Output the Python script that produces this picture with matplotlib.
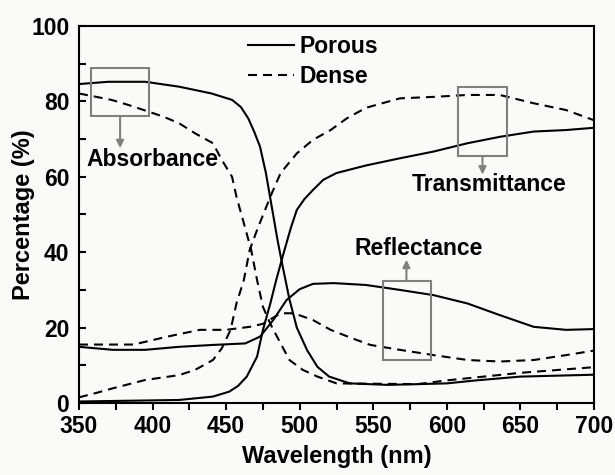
import matplotlib
matplotlib.use("Agg")
import matplotlib.pyplot as plt
from matplotlib.patches import Rectangle
from matplotlib.ticker import MultipleLocator

plt.rcParams['font.family'] = ['Liberation Sans', 'DejaVu Sans']
plt.rcParams['font.weight'] = 'bold'

# absorbance
wl_abs_porous = [350, 370, 395, 418, 440, 454, 460, 465, 469, 473, 477, 481, 485, 488, 493,
                 498, 505, 512, 520, 534, 560, 600, 620, 650, 700]
abs_porous = [84.6, 85.2, 85.2, 83.9, 82.1, 80.4, 78.5, 75.5, 72, 68, 61, 52, 43, 37, 27.5,
              20, 14, 9.6, 7, 5.2, 4.8, 5.2, 6, 7, 7.5]
wl_abs_dense = [350, 372, 384, 394, 407, 418, 429, 441, 447, 454, 457, 462, 467, 471,
                475, 480, 487, 493, 502, 512, 525, 580, 600, 650, 700]
abs_dense = [82.1, 80.4, 79, 77.7, 76, 74.2, 71.5, 68.9, 64.5, 60, 54.7, 47.7, 40.6, 32.6,
             25.5, 21, 15.8, 11.4, 8.8, 7, 5.2, 5, 6, 8, 9.5]

# transmittance
wl_tra_porous = [350, 418, 441, 452, 458, 464, 471, 475, 480, 484, 489, 494, 498, 503,
                 509, 516, 525, 545, 568, 591, 614, 636, 659, 681, 700]
tra_porous = [0.4, 0.8, 1.7, 3, 4.5, 7, 12.3, 19.4, 26.4, 32.6, 39.7, 46.5, 51.2, 54,
              56.5, 59.2, 61, 63, 64.9, 66.7, 68.9, 70.6, 72, 72.4, 73]
wl_tra_dense = [350, 362, 373, 395, 418, 429, 441, 447, 453, 457, 462, 466, 471, 480,
                487, 498, 509, 521, 532, 545, 568, 591, 614, 636, 659, 681, 700]
tra_dense = [1.5, 2.7, 3.9, 6.1, 7.4, 8.8, 11.4, 14.5, 19.4, 26.4, 32.6, 40.6, 45.9, 54.7,
             61, 66.2, 69.8, 72.4, 75.5, 78.3, 80.8, 81.2, 81.7, 81.7, 79.5, 77.7, 75]

# reflectance
wl_ref_porous = [350, 373, 395, 418, 441, 463, 473, 482, 491, 500, 509, 523, 545, 568,
                 591, 614, 636, 659, 681, 700]
ref_porous = [14.9, 14.1, 14.1, 14.9, 15.4, 15.8, 17.6, 22, 27.3, 30.2, 31.6, 31.8, 31.3, 30,
              28.6, 26.4, 23.3, 20.2, 19.4, 19.6]
wl_ref_dense = [350, 387, 410, 432, 450, 466, 475, 487, 496, 509, 521, 536, 548, 568,
                591, 614, 636, 659, 681, 700]
ref_dense = [15.5, 15.5, 17.6, 19.4, 19.4, 20.2, 21, 23.8, 23.8, 22, 19.4, 17.1, 15.4, 14.1,
             12.7, 11.4, 11, 11.4, 12.7, 13.9]

bg = '#fafaf8'
dash = (0, (4.3, 2.9))

fig = plt.figure(figsize=(6.15, 4.75), dpi=100, facecolor=bg)
ax = fig.add_axes([0.1285, 0.1516, 0.8374, 0.7937], facecolor=bg)

ax.plot(wl_abs_porous, abs_porous, color='black', lw=1.5, label='Porous')
ax.plot(wl_abs_dense, abs_dense, color='black', lw=1.5, linestyle=dash, label='Dense')
ax.plot(wl_tra_porous, tra_porous, color='black', lw=1.5)
ax.plot(wl_tra_dense, tra_dense, color='black', lw=1.5, linestyle=dash)
ax.plot(wl_ref_porous, ref_porous, color='black', lw=1.5)
ax.plot(wl_ref_dense, ref_dense, color='black', lw=1.5, linestyle=dash)

# boxes with arrows pointing to the labels
gray = '#808080'
boxes = [((358.4, 76.1), 39.0, 12.7, (377.9, 76.1), (377.9, 67.6)),
         ((607.6, 65.5), 33.1, 18.2, (624.2, 65.5), (624.2, 60.6)),
         ((556.4, 11.4), 32.6, 21.0, (572.5, 32.4), (572.5, 38.0))]
for xy, w, h, start, end in boxes:
    ax.add_patch(Rectangle(xy, w, h, fill=False, edgecolor=gray, lw=1.5, zorder=3))
    ax.annotate('', xy=end, xytext=start,
                arrowprops=dict(arrowstyle='-|>', color=gray, lw=1.5,
                                mutation_scale=11, shrinkA=0, shrinkB=0))

ax.text(354.8, 64.5, 'Absorbance', fontsize=16.5, fontweight='bold', ha='left', va='center')
ax.text(629, 58, 'Transmittance', fontsize=16.5, fontweight='bold', ha='center', va='center')
ax.text(581, 41, 'Reflectance', fontsize=16.5, fontweight='bold', ha='center', va='center')

ax.set_xlim(350, 700)
ax.set_ylim(0, 100)
ax.xaxis.set_major_locator(MultipleLocator(50))
ax.xaxis.set_minor_locator(MultipleLocator(25))
ax.yaxis.set_major_locator(MultipleLocator(20))
ax.yaxis.set_minor_locator(MultipleLocator(10))
ax.tick_params(axis='x', which='both', direction='out', length=5, width=1.5,
               labelsize=16.5, pad=4)
ax.tick_params(axis='y', which='both', direction='in', length=5, width=1.5,
               labelsize=16.5, pad=7)
for lab in ax.get_xticklabels() + ax.get_yticklabels():
    lab.set_fontweight('bold')
for s in ax.spines.values():
    s.set_linewidth(1.5)

ax.set_xlabel('Wavelength (nm)', fontsize=17, fontweight='bold', labelpad=5)
ax.set_ylabel('Percentage (%)', fontsize=17, fontweight='bold', labelpad=-3)

ax.legend(loc='upper left', bbox_to_anchor=(0.328, 0.975), frameon=False,
          prop={'size': 16.5, 'weight': 'bold'}, handlelength=2.0, handletextpad=0.25,
          labelspacing=0.3, borderpad=0, borderaxespad=0)

fig.savefig('out.png', dpi=100, facecolor=bg)
